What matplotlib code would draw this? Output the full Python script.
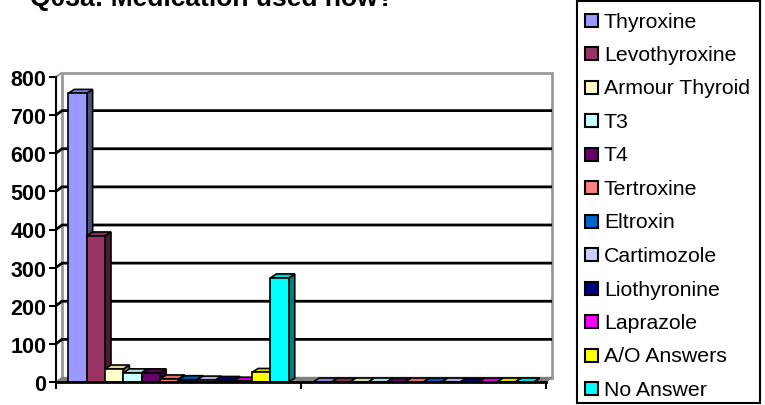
import matplotlib.pyplot as plt
from matplotlib.patches import Polygon, Rectangle
from matplotlib.colors import to_rgb

plt.rcParams['font.family'] = ['Liberation Sans', 'DejaVu Sans']

TITLE = "Q03a: Medication used now?"
SERIES = ['Thyroxine', 'Levothyroxine', 'Armour Thyroid', 'T3', 'T4', 'Tertroxine',
          'Eltroxin', 'Cartimozole', 'Liothyronine', 'Laprazole', 'A/O Answers', 'No Answer']
GROUP1 = [757, 383, 34, 24, 24, 8, 6, 5, 4, 2, 25, 273]
GROUP2 = [0, 0, 0, 0, 0, 0, 0, 0, 0, 0, 0, 0]
COLORS = ['#9999FF', '#993366', '#FFFFCC', '#CCFFFF', '#660066', '#FF8080',
          '#0066CC', '#CCCCFF', '#000080', '#FF00FF', '#FFFF00', '#00FFFF']
YTICKS = [0, 100, 200, 300, 400, 500, 600, 700, 800]

W, H = 765, 406
fig = plt.figure(figsize=(W / 100, H / 100), dpi=100)

# front plane of the axes in pixels
ax_l, ax_b, ax_w, ax_h = 56, 23, 490, 305
ax = fig.add_axes([ax_l / W, ax_b / H, ax_w / W, ax_h / H])
ax.set_xlim(0, 2)
ax.set_ylim(0, 800)

# depth offset (pixels -> data units)
wall_dx, wall_dy = 6 / ax_w * 2, 4.5 / ax_h * 800
bar_dx, bar_dy = 6 / ax_w * 2, 4 / ax_h * 800


def shade(c, f):
    r, g, b = to_rgb(c)
    return (r * f, g * f, b * f)


# back wall
ax.add_patch(Rectangle((wall_dx, wall_dy), 2, 800, facecolor='white', edgecolor='#999999',
                       lw=2, clip_on=False, zorder=1))
# left side wall edge
ax.add_patch(Polygon([(0, 800), (wall_dx, 800 + wall_dy)], closed=False, edgecolor='#999999',
                     lw=1.5, fill=False, clip_on=False, zorder=1))

# gridlines on side wall and back wall
for v in YTICKS[1:-1]:
    ax.plot([0, wall_dx, 2 + wall_dx], [v, v + wall_dy, v + wall_dy], color='black', lw=2,
            clip_on=False, zorder=2, solid_capstyle='butt')

# floor
ax.add_patch(Polygon([(0, 0), (2, 0), (2 + wall_dx, wall_dy), (wall_dx, wall_dy)],
                     facecolor='#808080', edgecolor='#808080', lw=1, clip_on=False, zorder=3))

bw = 0.075
for g, vals in enumerate([GROUP1, GROUP2]):
    for i, (v, c) in enumerate(zip(vals, COLORS)):
        x0 = g + 0.05 + i * bw
        x1 = x0 + bw
        z = 4 + i * 0.01
        ax.add_patch(Polygon([(x1, 0), (x1 + bar_dx, bar_dy), (x1 + bar_dx, v + bar_dy), (x1, v)],
                             facecolor=shade(c, 0.5), edgecolor='black', lw=1.2,
                             clip_on=False, zorder=z))
        ax.add_patch(Polygon([(x0, v), (x1, v), (x1 + bar_dx, v + bar_dy), (x0 + bar_dx, v + bar_dy)],
                             facecolor=shade(c, 0.85), edgecolor='black', lw=1.2,
                             clip_on=False, zorder=z))
        if v > 0:
            ax.add_patch(Rectangle((x0, 0), bw, v, facecolor=c, edgecolor='black', lw=1.2,
                                   clip_on=False, zorder=z))

for s in ['top', 'right']:
    ax.spines[s].set_visible(False)
ax.spines['left'].set_linewidth(1.5)
ax.spines['bottom'].set_linewidth(2)
ax.spines['left'].set_zorder(10)
ax.spines['bottom'].set_zorder(10)
ax.patch.set_visible(False)

ax.set_yticks(YTICKS)
ax.set_yticklabels([str(t) for t in YTICKS], fontsize=15.5, fontweight='bold')
ax.set_xticks([0, 1, 2])
ax.set_xticklabels([])
ax.tick_params(axis='both', direction='out', length=5, width=1.5, color='black', pad=2)

# title, mostly cut off at the top as in the source
fig.text(30 / W, 1 - 6 / H, TITLE, fontsize=19, fontweight='bold', ha='left', va='baseline')

# legend box
fig.add_artist(Rectangle((577 / W, 1 - 404 / H), 183 / W, 402 / H, transform=fig.transFigure,
                         facecolor='white', edgecolor='black', lw=1.5))
for i, (name, c) in enumerate(zip(SERIES, COLORS)):
    yc = 21 + 33.5 * i
    fig.add_artist(Rectangle((585 / W, 1 - (yc + 6.5) / H), 13 / W, 13 / H,
                             transform=fig.transFigure, facecolor=c, edgecolor='black', lw=1.5))
    fig.text(604 / W, 1 - (yc + 1) / H, name, fontsize=15.3, ha='left', va='center')

fig.savefig('out.png', dpi=100)
